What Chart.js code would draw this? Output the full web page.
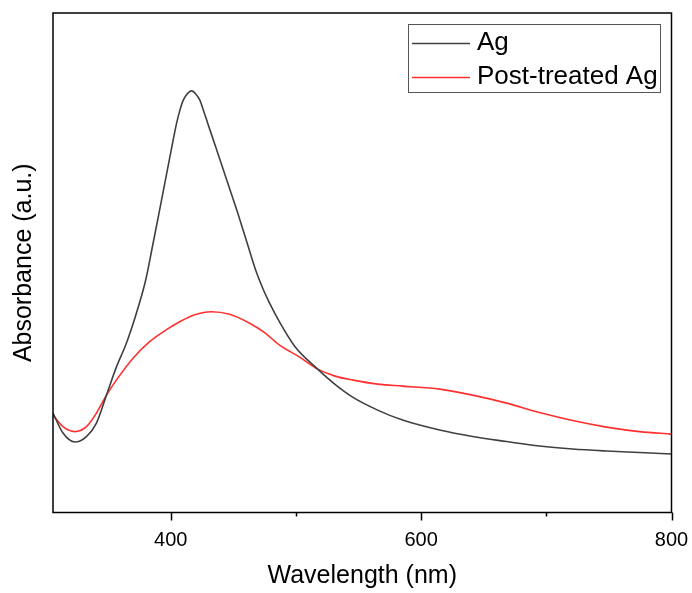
<!DOCTYPE html>
<html>
<head>
<meta charset="utf-8">
<script src="https://cdn.jsdelivr.net/npm/chart.js@4/dist/chart.umd.min.js"></script>
<style>
  html, body { margin: 0; padding: 0; background: #fff; }
  #box { width: 692px; height: 593px; }
</style>
</head>
<body>
<div id="box"><canvas id="uvChart"></canvas></div>
<script>
// wavelength (nm) and absorbance (a.u.)
const wlAg = [306, 314, 323.4, 332.7, 340.7, 348.7, 356.6, 364.6, 372.6, 380, 385.4, 390.4, 395.2, 400.6, 404.6, 407.2, 409.8, 412.8, 416.8, 420, 423.2, 426.3, 429.5, 435.9, 444.7, 453.5, 461.5, 467.9, 473.5, 479, 487, 499, 517.4, 531, 545.3, 565.3, 585.2, 614.8, 641.1, 668.3, 694.6, 721, 748.1, 774.5, 800];
const absAg = [0.199, 0.159, 0.141, 0.152, 0.179, 0.235, 0.291, 0.339, 0.399, 0.465, 0.532, 0.596, 0.658, 0.728, 0.778, 0.804, 0.824, 0.837, 0.844, 0.838, 0.826, 0.804, 0.780, 0.732, 0.666, 0.600, 0.536, 0.485, 0.449, 0.419, 0.381, 0.333, 0.287, 0.257, 0.231, 0.205, 0.185, 0.165, 0.152, 0.142, 0.133, 0.127, 0.123, 0.120, 0.117];

const wlPost = [306, 314, 323.4, 332.7, 340.7, 348.7, 356.6, 369.9, 383.2, 396.6, 407.2, 419.2, 432.5, 447.1, 463.1, 475, 487, 503, 517.4, 531.3, 545.7, 565.3, 585.2, 614.8, 641.1, 668.3, 694.6, 721, 748.1, 774.5, 800];
const absPost = [0.195, 0.172, 0.162, 0.172, 0.199, 0.235, 0.265, 0.309, 0.342, 0.366, 0.382, 0.396, 0.402, 0.397, 0.379, 0.360, 0.335, 0.311, 0.287, 0.273, 0.265, 0.257, 0.253, 0.247, 0.235, 0.219, 0.200, 0.184, 0.171, 0.162, 0.157];

const xTicks = [400, 500, 600, 700, 800];
const xLabels = [400, 600, 800];

function toPoints(xs, ys) {
  return xs.map((x, i) => ({ x: x, y: ys[i] }));
}

// frame, ticks and boxed legend
const frame = {
  id: 'frame',
  afterDraw(chart) {
    const ctx = chart.ctx;
    const a = chart.chartArea;
    const xs = chart.scales.x;
    ctx.save();
    ctx.strokeStyle = '#000';
    ctx.lineWidth = 1.5;
    ctx.strokeRect(a.left, a.top, a.right - a.left, a.bottom - a.top);
    ctx.beginPath();
    xTicks.forEach(v => {
      const px = Math.round(xs.getPixelForValue(v)) + 0.5;
      const len = xLabels.includes(v) ? 8 : 4;
      ctx.moveTo(px, a.bottom);
      ctx.lineTo(px, a.bottom + len);
    });
    ctx.stroke();

    // legend
    ctx.lineWidth = 1;
    ctx.strokeStyle = '#555';
    ctx.strokeRect(408.5, 24.5, 252, 68);
    ctx.font = '26px "Liberation Sans", Arial, sans-serif';
    ctx.textBaseline = 'middle';
    ctx.fillStyle = '#000';
    chart.data.datasets.forEach((ds, i) => {
      const y = 43 + i * 34;
      ctx.strokeStyle = ds.borderColor;
      ctx.lineWidth = 1.5;
      ctx.beginPath();
      ctx.moveTo(412, y + 0.5);
      ctx.lineTo(470, y + 0.5);
      ctx.stroke();
      ctx.fillText(ds.label, 477, y);
    });
    ctx.restore();
  }
};

const ctx = document.getElementById('uvChart').getContext('2d');
const myChart = new Chart(ctx, {
  type: 'line',
  data: {
    datasets: [
      {
        label: 'Ag',
        data: toPoints(wlAg, absAg),
        borderColor: '#404040',
        borderWidth: 1.6,
        pointRadius: 0,
        cubicInterpolationMode: 'monotone',
        fill: false
      },
      {
        label: 'Post-treated Ag',
        data: toPoints(wlPost, absPost),
        borderColor: '#ff3030',
        borderWidth: 1.6,
        pointRadius: 0,
        cubicInterpolationMode: 'monotone',
        fill: false
      }
    ]
  },
  options: {
    responsive: true,
    maintainAspectRatio: false,
    animation: false,
    layout: { padding: { top: 13, right: 20.5, left: 0, bottom: 0 } },
    plugins: {
      legend: { display: false },
      tooltip: { enabled: false }
    },
    scales: {
      x: {
        type: 'linear',
        min: 306,
        max: 800,
        afterBuildTicks: s => { s.ticks = xTicks.map(v => ({ value: v })); },
        afterFit: s => { s.height = 80.5; s.paddingLeft = 0; s.paddingRight = 0; },
        border: { display: false },
        grid: { display: false, drawTicks: false },
        ticks: {
          padding: 16,
          color: '#000',
          font: { family: '"Liberation Sans", Arial, sans-serif', size: 20 },
          callback: v => xLabels.includes(v) ? String(v) : ''
        },
        title: {
          display: true,
          text: 'Wavelength (nm)',
          color: '#000',
          padding: { top: 0, bottom: 2 },
          font: { family: '"Liberation Sans", Arial, sans-serif', size: 25 }
        }
      },
      y: {
        min: 0,
        max: 1,
        afterFit: s => { s.width = 53; },
        border: { display: false },
        grid: { display: false, drawTicks: false },
        ticks: { display: false },
        title: {
          display: true,
          text: 'Absorbance (a.u.)',
          color: '#000',
          padding: { top: 9, bottom: 0 },
          font: { family: '"Liberation Sans", Arial, sans-serif', size: 25 }
        }
      }
    }
  },
  plugins: [frame]
});
</script>
</body>
</html>
